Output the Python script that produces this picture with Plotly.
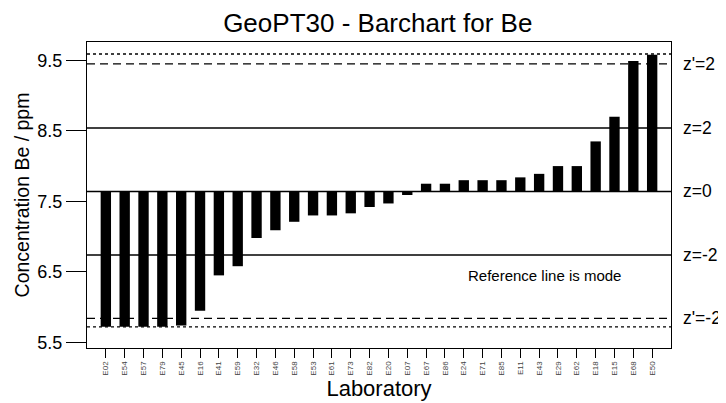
import plotly.graph_objects as go

labs = ["E02", "E54", "E57", "E79", "E45", "E16", "E41", "E59", "E32", "E46",
        "E58", "E53", "E61", "E73", "E82", "E20", "E07", "E67", "E86", "E24",
        "E71", "E85", "E11", "E43", "E29", "E62", "E18", "E15", "E68", "E50"]
values = [5.72, 5.72, 5.72, 5.72, 5.74, 5.95, 6.45, 6.58, 6.98, 7.09,
          7.21, 7.30, 7.30, 7.33, 7.42, 7.47, 7.59, 7.75, 7.75, 7.80,
          7.80, 7.80, 7.84, 7.89, 8.00, 8.00, 8.35, 8.70, 9.49, 9.58]

ref_value = 7.64
solid_levels = [8.54, 7.64, 6.74]
solid_names = ["z=2", "z=0", "z=-2"]
dashed_levels = [9.45, 5.84]
dashed_names = ["z'=2", "z'=-2"]
dotted_levels = [9.59, 5.72]

y_ticks = [5.5, 6.5, 7.5, 8.5, 9.5]

FONT = "Liberation Sans, Arial, sans-serif"

fig = go.Figure()

# bars hang from the reference line (mode)
fig.add_trace(go.Bar(
    x=labs,
    y=[v - ref_value for v in values],
    base=ref_value,
    width=0.55,
    marker=dict(color="black", line=dict(width=0)),
    showlegend=False
))

for lv in solid_levels:
    fig.add_hline(y=lv, line=dict(color="black", width=1.4))
for lv in dashed_levels:
    fig.add_hline(y=lv, line=dict(color="black", width=1.4, dash="8px,5px"))
for lv in dotted_levels:
    fig.add_hline(y=lv, line=dict(color="black", width=1.4, dash="3px,3px"))

for lv, name in list(zip(solid_levels, solid_names)) + list(zip(dashed_levels, dashed_names)):
    fig.add_annotation(
        text=name, xref="paper", yref="y", x=1, y=lv,
        xanchor="left", yanchor="middle", xshift=10,
        showarrow=False, font=dict(size=17.5, color="black", family=FONT)
    )

fig.add_annotation(
    text="Reference line is mode", xref="paper", yref="paper",
    x=0.784, y=0.237, xanchor="center", yanchor="middle",
    showarrow=False, font=dict(size=15, color="black", family=FONT)
)

# page body adds an 8px offset, so the figure is 8px smaller than the window
fig.update_layout(
    width=718,
    height=395,
    paper_bgcolor="white",
    plot_bgcolor="white",
    font=dict(family=FONT, color="black"),
    title=dict(
        text="GeoPT30 - Barchart for Be",
        x=0.515, xanchor="center",
        y=0.962, yanchor="middle",
        font=dict(size=26, color="black")
    ),
    margin=dict(l=79, r=55, t=34, b=52),
    xaxis=dict(
        range=[-1, 30],
        showgrid=False,
        showline=True, mirror=True, linecolor="black", linewidth=1.4,
        ticks="outside", ticklen=9, tickcolor="black", tickwidth=1.4,
        tickangle=-90,
        tickfont=dict(size=8, color="#444"),
        title=dict(text="Laboratory", font=dict(size=22), standoff=0)
    ),
    yaxis=dict(
        range=[5.42, 9.76],
        tickvals=y_ticks,
        ticktext=[f"{t:.1f}" for t in y_ticks],
        showgrid=False, zeroline=False,
        showline=True, mirror=True, linecolor="black", linewidth=1.4,
        ticks="outside", ticklen=20, tickcolor="black", tickwidth=1.4,
        tickfont=dict(size=18),
        title=dict(text="Concentration Be / ppm", font=dict(size=19.5), standoff=2)
    ),
)

fig.write_html("out.html")
